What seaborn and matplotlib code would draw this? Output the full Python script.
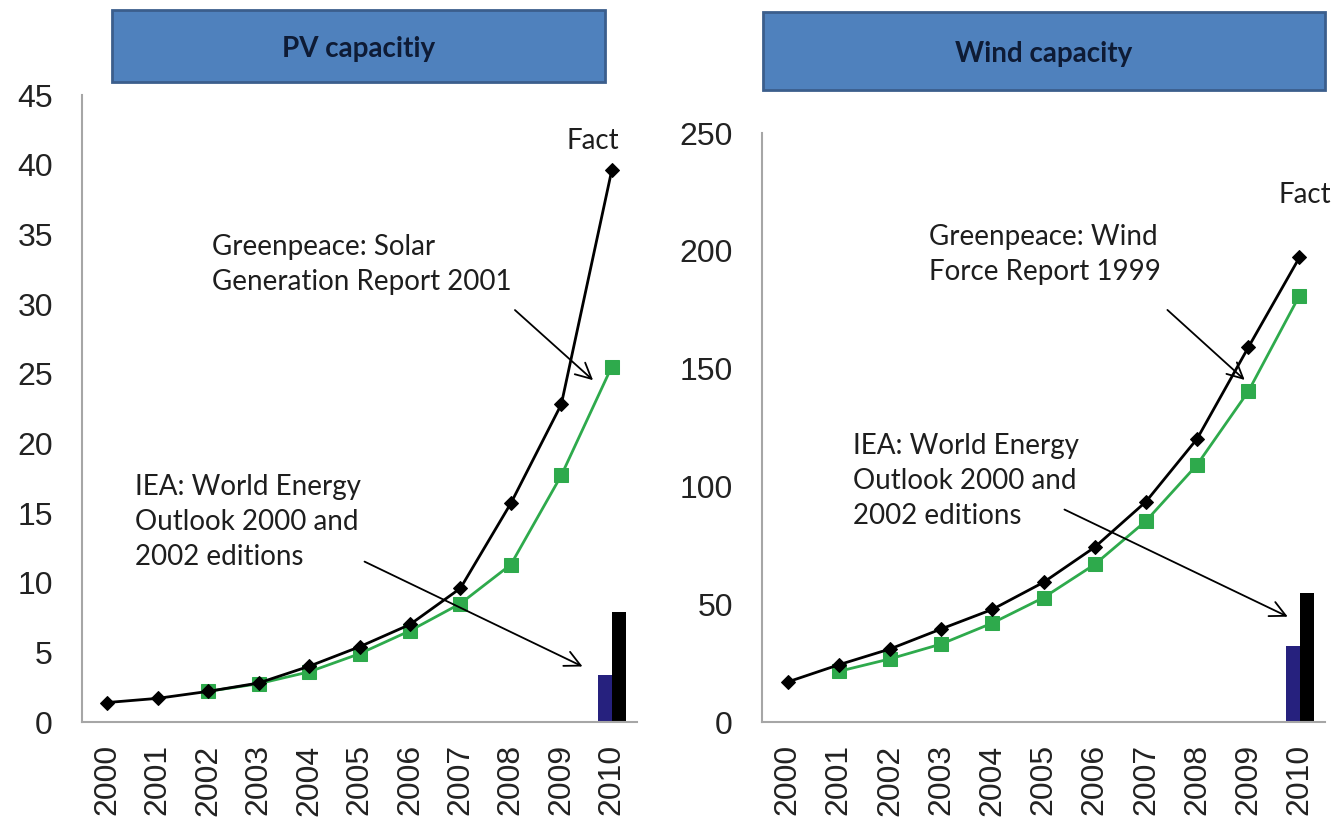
import matplotlib.pyplot as plt
from matplotlib.patches import Rectangle
import seaborn as sns

YEARS = list(range(2000, 2011))

# PV capacity (GW)
PV_FACT = [1.4, 1.7, 2.2, 2.8, 4.0, 5.4, 7.0, 9.6, 15.7, 22.8, 39.6]
PV_GP_YEARS = list(range(2002, 2011))
PV_GP = [2.2, 2.75, 3.6, 4.9, 6.55, 8.5, 11.3, 17.7, 25.5]
PV_BARS = [3.4, 7.9]  # IEA projection, fact

# Wind capacity (GW)
WIND_FACT = [17.0, 24.3, 31.0, 39.5, 47.8, 59.3, 74.2, 93.5, 120.2, 159.0, 197.2]
WIND_GP_YEARS = list(range(2001, 2011))
WIND_GP = [21.5, 26.8, 33.1, 42.0, 52.8, 66.9, 85.3, 109.2, 140.3, 181.0]
WIND_BARS = [32.2, 54.9]

GREEN = "#2EAA4C"
IEA_BLUE = "#26217E"
AXIS_GRAY = "#A6A6A6"
BOX_FILL = "#4F81BD"
BOX_EDGE = "#3B5E8C"
TEXT_FONT = ["Lato", "DejaVu Sans"]
TICK_FONT = ["Liberation Sans", "DejaVu Sans"]

sns.set_theme(style="white")
plt.rcParams["font.family"] = TICK_FONT


def draw_panel(ax, fact, gp_years, gp, bars, ymax, ystep):
    x_fact = list(range(len(YEARS)))
    x_gp = [YEARS.index(y) for y in gp_years]
    last = len(YEARS) - 1

    ax.bar(last - 0.13, bars[0], width=0.28, color=IEA_BLUE, linewidth=0)
    ax.bar(last + 0.15, bars[1], width=0.28, color="black", linewidth=0)

    sns.lineplot(x=x_gp, y=gp, color=GREEN, marker="s", markersize=10,
                 markeredgecolor=GREEN, linewidth=2, ax=ax)
    sns.lineplot(x=x_fact, y=fact, color="black", marker="D", markersize=7,
                 markeredgecolor="black", linewidth=2, ax=ax)

    ax.set_xlim(-0.5, 10.5)
    ax.set_ylim(0, ymax)
    ax.set_yticks(range(0, ymax + 1, ystep))
    ax.set_xticks(range(len(YEARS)))
    ax.set_xticklabels([str(y) for y in YEARS], rotation=90)
    ax.set_xticks([i - 0.5 for i in range(len(YEARS) + 1)], minor=True)
    ax.tick_params(axis="x", which="major", length=0, pad=16, labelsize=23, labelcolor="#222222")
    ax.tick_params(axis="x", which="minor", length=7, width=1.2, color=AXIS_GRAY, direction="out")
    ax.tick_params(axis="y", length=7, width=1.2, color=AXIS_GRAY, pad=14,
                   labelsize=23, labelcolor="#222222", direction="out")
    ax.set_xlabel("")
    ax.set_ylabel("")
    for side in ["top", "right"]:
        ax.spines[side].set_visible(False)
    for side in ["left", "bottom"]:
        ax.spines[side].set_color(AXIS_GRAY)
        ax.spines[side].set_linewidth(1.5)


def arrow(ax, tail, head):
    ax.annotate("", xy=head, xytext=tail,
                arrowprops=dict(arrowstyle="->", color="black", lw=1.3, mutation_scale=28))


def title_box(fig, x0, y0, x1, y1, label):
    W, H = 1334, 819
    fig.patches.append(Rectangle((x0 / W, 1 - y1 / H), (x1 - x0) / W, (y1 - y0) / H,
                                 transform=fig.transFigure, facecolor=BOX_FILL,
                                 edgecolor=BOX_EDGE, linewidth=2))
    fig.text((x0 + x1) / 2 / W, 1 - (y0 + y1 + 6) / 2 / H, label, ha="center", va="center",
             fontsize=20, fontweight="bold", color="#0E1B35", family=TEXT_FONT)


fig = plt.figure(figsize=(13.34, 8.19), dpi=100)
ax1 = fig.add_axes([0.0615, 0.1184, 0.416, 0.7656])
ax2 = fig.add_axes([0.5712, 0.1184, 0.4221, 0.7192])

draw_panel(ax1, PV_FACT, PV_GP_YEARS, PV_GP, PV_BARS, 45, 5)
draw_panel(ax2, WIND_FACT, WIND_GP_YEARS, WIND_GP, WIND_BARS, 250, 50)

txt = dict(fontsize=20, color="#1E1E1E", family=TEXT_FONT, linespacing=1.42)

ax1.text(9.62, 41.7, "Fact", ha="center", va="center", **txt)
ax1.text(2.07, 35.0, "Greenpeace: Solar\nGeneration Report 2001", ha="left", va="top", **txt)
ax1.text(0.55, 17.8, "IEA: World Energy\nOutlook 2000 and\n2002 editions", ha="left", va="top", **txt)
arrow(ax1, (8.04, 29.7), (9.67, 24.4))
arrow(ax1, (5.05, 11.6), (9.47, 3.9))

ax2.text(10.11, 223.7, "Fact", ha="center", va="center", **txt)
ax2.text(2.76, 211.4, "Greenpeace: Wind\nForce Report 1999", ha="left", va="top", **txt)
ax2.text(1.27, 122.7, "IEA: World Energy\nOutlook 2000 and\n2002 editions", ha="left", va="top", **txt)
arrow(ax2, (7.38, 175.7), (8.97, 144.4))
arrow(ax2, (5.36, 90.7), (9.82, 44.2))

title_box(fig, 112, 10, 605, 82, "PV capacitiy")
title_box(fig, 763, 12, 1325, 90, "Wind capacity")

plt.savefig("out.png", dpi=100)
plt.close()
